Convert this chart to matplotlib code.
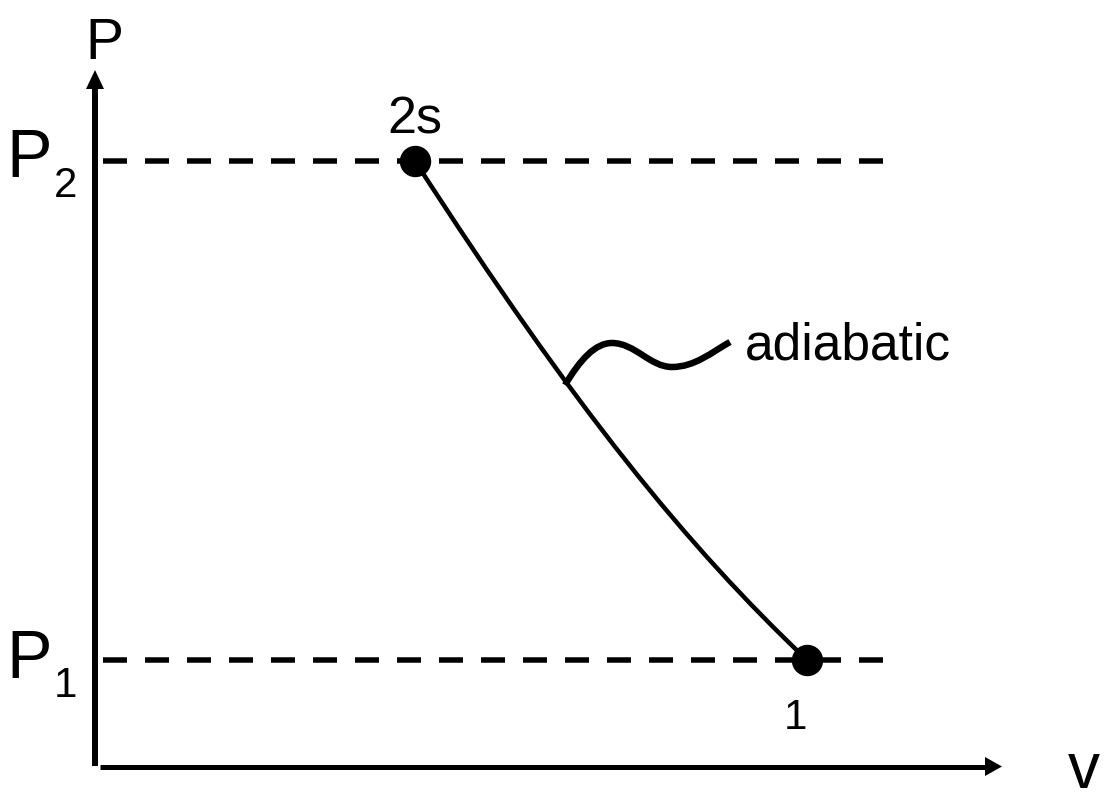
import matplotlib.pyplot as plt
from matplotlib.path import Path
from matplotlib.patches import PathPatch

# P-v diagram of an adiabatic compression, drawn in the picture's pixel space
plt.rcParams['font.family'] = ['Liberation Sans', 'DejaVu Sans']

W, H = 1108, 802
PX = 0.72  # points per pixel at dpi=100

# state points
state_labels = ['2s', '1']
state_v = [415, 807]
state_p = [161, 660]

# isobars P2 and P1
isobar_p = [161, 660]
isobar_v0, isobar_v1 = 103, 883

# adiabatic curve: one cubic bezier (end points + two control points)
curve_v = [415, 575, 687, 807]
curve_p = [161, 409, 546, 660]

# wavy leader to the "adiabatic" label: three cubic segments
wave_v = [565, 580, 595, 612, 635, 650, 672, 695, 712, 730]
wave_p = [385, 360, 343, 343, 343, 367, 367, 367, 352, 342]

fig = plt.figure(figsize=(W / 100, H / 100), dpi=100)
ax = fig.add_axes([0, 0, 1, 1])
ax.set_xlim(0, W)
ax.set_ylim(H, 0)
ax.axis('off')

# axes with arrow heads
ax.plot([95, 95], [766, 86], color='black', lw=6 * PX, solid_capstyle='butt')
ax.fill([86, 104, 95], [89, 89, 70], color='black', lw=0)
ax.plot([100, 987], [766.5, 766.5], color='black', lw=5 * PX, solid_capstyle='butt')
ax.fill([985, 985, 1002], [757, 776, 766.5], color='black', lw=0)

# dashed isobars
dash_lw = 5.5 * PX
for p in isobar_p:
    ax.plot([isobar_v0, isobar_v1], [p, p], color='black', lw=dash_lw,
            dashes=(24 / 5.5, 18 / 5.5), dash_capstyle='butt')

# process curve and leader
curve = Path(list(zip(curve_v, curve_p)), [Path.MOVETO] + [Path.CURVE4] * 3)
ax.add_patch(PathPatch(curve, fill=False, edgecolor='black', lw=4.5 * PX))
wave = Path(list(zip(wave_v, wave_p)), [Path.MOVETO] + [Path.CURVE4] * 9)
ax.add_patch(PathPatch(wave, fill=False, edgecolor='black', lw=6.5 * PX,
                       capstyle='butt'))

ax.plot(state_v, state_p, 'o', color='black', markersize=30 * PX, zorder=5)

# texts (font sizes in pixels converted to points)
ax.text(104, 59, 'P', fontsize=57 * PX, ha='center', va='baseline')
ax.text(1068, 801, 'v', fontsize=64 * PX, ha='left', va='bottom')
ax.text(6, 177, 'P', fontsize=68 * PX, ha='left', va='baseline')
ax.text(54, 197, '2', fontsize=42 * PX, ha='left', va='baseline')
ax.text(6, 678, 'P', fontsize=68 * PX, ha='left', va='baseline')
ax.text(54, 697, '1', fontsize=42 * PX, ha='left', va='baseline')
ax.text(415, 133, state_labels[0], fontsize=52 * PX, ha='center', va='baseline')
ax.text(795, 729, state_labels[1], fontsize=42 * PX, ha='center', va='baseline')
ax.text(745, 360, 'adiabatic', fontsize=51.5 * PX, ha='left', va='baseline')

fig.savefig('out.png', dpi=100)
